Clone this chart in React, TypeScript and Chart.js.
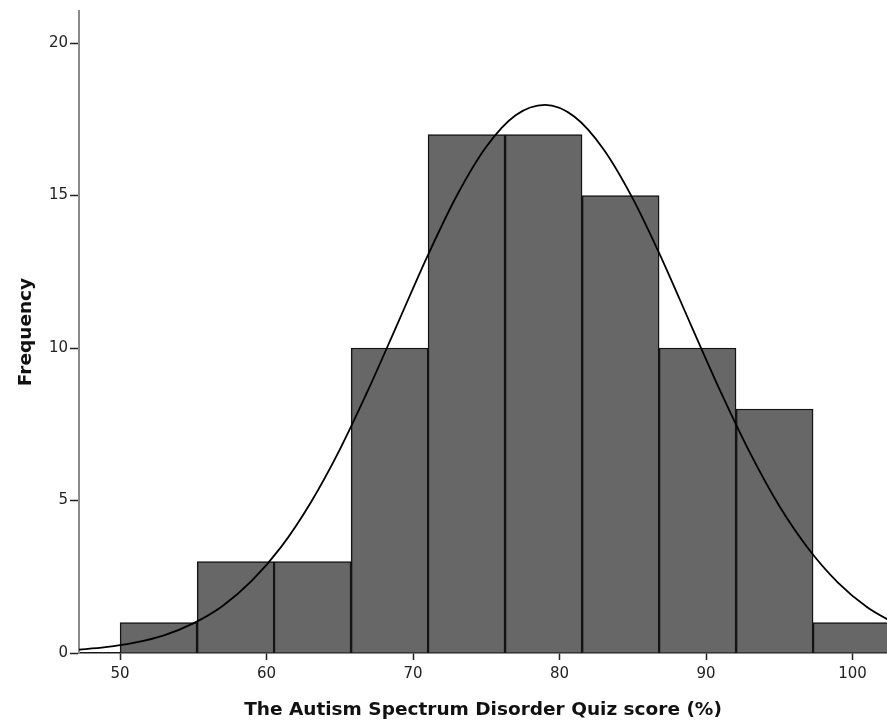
import React, { useEffect, useRef } from "react";
import { Chart, registerables } from "chart.js";

Chart.register(...registerables);

// Histogram bins (bin centres, width ≈ 5.26)
const binCenters = [52.63, 57.89, 63.14, 68.4, 73.65, 78.91, 84.17, 89.42, 94.68, 99.93];
const frequencies = [1, 3, 3, 10, 17, 17, 15, 10, 8, 1];

// Fitted normal curve
const curveX = [47, 49, 51, 53, 55, 57, 59, 61, 63, 65, 67, 69, 71, 73, 75, 77, 79, 81, 83, 85, 87, 89, 91, 93, 95, 97, 99, 101, 103];
const curveY = [0.1, 0.19, 0.34, 0.58, 0.97, 1.54, 2.37, 3.48, 4.92, 6.67, 8.69, 10.86, 13.03, 15.01, 16.6, 17.63, 17.97, 17.59, 16.52, 14.9, 12.9, 10.72, 8.56, 6.56, 4.82, 3.41, 2.31, 1.5, 0.94];

const xTicks = [50, 60, 70, 80, 90, 100];
const yTicks = [0, 5, 10, 15, 20];

const xTitle = "The Autism Spectrum Disorder Quiz score (%)";
const yTitle = "Frequency";

export default function App() {
  const ref = useRef<HTMLCanvasElement | null>(null);

  useEffect(() => {
    if (!ref.current) return;
    const chart = new Chart(ref.current, {
      type: "bar",
      data: {
        datasets: [
          {
            type: "line",
            data: curveX.map((x, i) => ({ x, y: curveY[i] })),
            borderColor: "#000000",
            borderWidth: 1.8,
            pointRadius: 0,
            cubicInterpolationMode: "monotone",
            fill: false,
            order: 0,
          } as any,
          {
            type: "bar",
            data: binCenters.map((x, i) => ({ x, y: frequencies[i] })),
            backgroundColor: "#676767",
            borderColor: "#141414",
            borderWidth: 1.5,
            barPercentage: 1,
            categoryPercentage: 1,
            order: 1,
          } as any,
        ],
      },
      options: {
        responsive: false,
        animation: false,
        events: [],
        layout: { padding: { top: 9, right: 0, left: 0, bottom: 0 } },
        plugins: { legend: { display: false }, tooltip: { enabled: false } },
        scales: {
          x: {
            type: "linear",
            min: 47.2,
            max: 102.35,
            offset: false,
            grid: {
              display: true,
              offset: false,
              drawOnChartArea: false,
              drawTicks: true,
              tickLength: 7,
              tickColor: "#222222",
              tickWidth: 1.5,
            },
            border: { display: true, color: "#1a1a1a", width: 1.5 },
            ticks: {
              color: "#222222",
              font: { family: "DejaVu Sans", size: 15 },
              padding: 5,
              maxRotation: 0,
            },
            afterBuildTicks: (scale: any) => {
              scale.ticks = xTicks.map((v) => ({ value: v }));
            },
            afterFit: (scale: any) => {
              scale.height = 68;
            },
            title: {
              display: true,
              text: xTitle,
              color: "#111111",
              font: { family: "DejaVu Sans", size: 18.5, weight: "bold" },
              padding: { top: 10, bottom: 0 },
            },
          },
          y: {
            type: "linear",
            min: 0,
            max: 21.05,
            grid: {
              display: true,
              drawOnChartArea: false,
              drawTicks: true,
              tickLength: 9,
              tickColor: "#222222",
              tickWidth: 1.5,
            },
            border: { display: true, color: "#8a8a8a", width: 2 },
            ticks: {
              color: "#222222",
              font: { family: "DejaVu Sans", size: 15 },
              padding: 2,
            },
            afterBuildTicks: (scale: any) => {
              scale.ticks = yTicks.map((v) => ({ value: v }));
            },
            afterFit: (scale: any) => {
              scale.width = 79;
            },
            title: {
              display: true,
              text: yTitle,
              color: "#111111",
              font: { family: "DejaVu Sans", size: 18.5, weight: "bold" },
              padding: { top: 15, bottom: 0 },
            },
          },
        },
      },
    });
    return () => chart.destroy();
  }, []);

  return (
    <div style={{ position: "absolute", left: 0, top: 0, width: 887, height: 721, background: "#ffffff" }}>
      <canvas ref={ref} width={887} height={721} style={{ width: 887, height: 721, display: "block" }} />
    </div>
  );
}
